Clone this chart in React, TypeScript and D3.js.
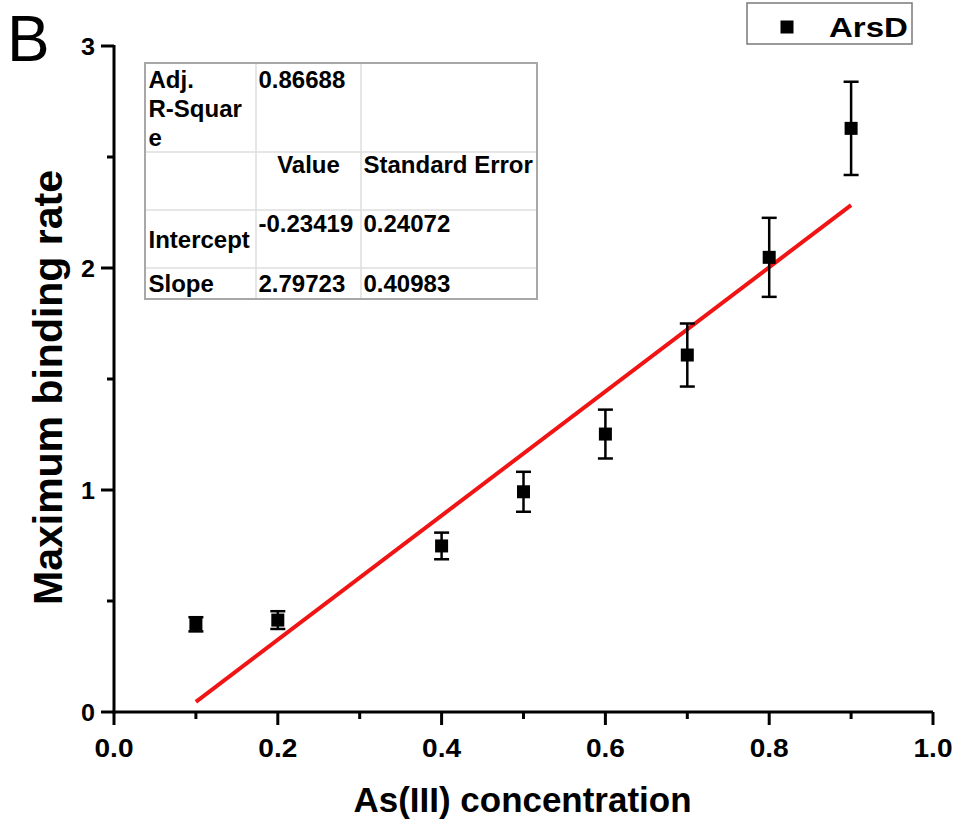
import React from "react";
import * as d3 from "d3";

const concentrations = [0.1, 0.2, 0.4, 0.5, 0.6, 0.7, 0.8, 0.9];
const bindingRates = [0.395, 0.414, 0.748, 0.992, 1.252, 1.608, 2.048, 2.629];
const errors = [0.032, 0.04, 0.06, 0.09, 0.11, 0.142, 0.178, 0.21];

const fitIntercept = -0.23419;
const fitSlope = 2.79723;
const fitRange = [0.1, 0.9];

const xTicks = [0, 0.2, 0.4, 0.6, 0.8, 1.0];
const xMinorTicks = [0.1, 0.3, 0.5, 0.7, 0.9];
const yTicks = [0, 1, 2, 3];
const yMinorTicks = [0.5, 1.5, 2.5];

const tableRows = [
  { label: ["Adj.", "R-Squar", "e"], value: "0.86688", err: "" },
  { label: [""], value: "Value", err: "Standard Error" },
  { label: ["Intercept"], value: "-0.23419", err: "0.24072" },
  { label: ["Slope"], value: "2.79723", err: "0.40983" },
];

const seriesName = "ArsD";
const xTitle = "As(III) concentration";
const yTitle = "Maximum binding rate";
const panelLabel = "B";

export default function App() {
  const W = 959;
  const H = 828;
  const x = d3.scaleLinear().domain([0, 1]).range([114, 933]);
  const y = d3.scaleLinear().domain([0, 3]).range([712, 46]);
  const font = "'Liberation Sans', Arial, Helvetica, sans-serif";

  const fitLine = d3
    .line<number>()
    .x((d) => x(d))
    .y((d) => y(fitIntercept + fitSlope * d));

  const tLeft = 145, tRight = 537, tTop = 63, tBottom = 299;
  const colX = [tLeft, 256, 361, tRight];
  const rowY = [tTop, 152, 210, 268, tBottom];

  return (
    <svg
      width={W}
      height={H}
      style={{ position: "absolute", left: 0, top: 0, background: "#fff" }}
      fontFamily={font}
    >
      <rect x={0} y={0} width={W} height={H} fill="#fff" />
      <text x={7} y={61} fontSize={64} fill="#000">
        {panelLabel}
      </text>

      {/* axes */}
      <line x1={x(0)} x2={x(0)} y1={y(3) - 1} y2={y(0) + 1.5} stroke="#000" strokeWidth={3} />
      <line x1={x(0) - 1.5} x2={x(1)} y1={y(0)} y2={y(0)} stroke="#000" strokeWidth={3} />
      {yTicks.map((t) => (
        <g key={"yt" + t}>
          <line x1={x(0) - 13} x2={x(0)} y1={y(t)} y2={y(t)} stroke="#000" strokeWidth={3} />
          <text
            x={95}
            y={y(t) + 8.5}
            fontSize={24}
            fontWeight="bold"
            textAnchor="end"
            textLength={14}
            lengthAdjust="spacingAndGlyphs"
          >
            {t}
          </text>
        </g>
      ))}
      {yMinorTicks.map((t) => (
        <line key={"ym" + t} x1={x(0) - 7} x2={x(0)} y1={y(t)} y2={y(t)} stroke="#000" strokeWidth={3} />
      ))}
      {xTicks.map((t) => (
        <g key={"xt" + t}>
          <line x1={x(t)} x2={x(t)} y1={y(0)} y2={y(0) + 13} stroke="#000" strokeWidth={3} />
          <text
            x={x(t)}
            y={757}
            fontSize={25}
            fontWeight="bold"
            textAnchor="middle"
            textLength={39}
            lengthAdjust="spacingAndGlyphs"
          >
            {t.toFixed(1)}
          </text>
        </g>
      ))}
      {xMinorTicks.map((t) => (
        <line key={"xm" + t} x1={x(t)} x2={x(t)} y1={y(0)} y2={y(0) + 7} stroke="#000" strokeWidth={3} />
      ))}

      {/* axis titles */}
      <text
        x={522.5}
        y={812}
        fontSize={35}
        fontWeight="bold"
        textAnchor="middle"
        textLength={338}
        lengthAdjust="spacingAndGlyphs"
      >
        {xTitle}
      </text>
      <text
        transform={`translate(61.5,387.5) rotate(-90)`}
        fontSize={41}
        fontWeight="bold"
        textAnchor="middle"
        textLength={435}
        lengthAdjust="spacingAndGlyphs"
      >
        {yTitle}
      </text>

      {/* fit line */}
      <path d={fitLine(fitRange) || ""} stroke="#f01414" strokeWidth={4} fill="none" />

      {/* error bars and points */}
      {concentrations.map((c, i) => {
        const cx = x(c);
        const top = y(bindingRates[i] + errors[i]);
        const bot = y(bindingRates[i] - errors[i]);
        return (
          <g key={"p" + i}>
            <line x1={cx} x2={cx} y1={top} y2={bot} stroke="#000" strokeWidth={2.5} />
            <line x1={cx - 7.5} x2={cx + 7.5} y1={top} y2={top} stroke="#000" strokeWidth={2.5} />
            <line x1={cx - 7.5} x2={cx + 7.5} y1={bot} y2={bot} stroke="#000" strokeWidth={2.5} />
            <rect x={cx - 6.5} y={y(bindingRates[i]) - 6.5} width={13} height={13} fill="#000" />
          </g>
        );
      })}

      {/* stats table */}
      <rect x={tLeft} y={tTop} width={tRight - tLeft} height={tBottom - tTop} fill="#fff" />
      {rowY.slice(1, -1).map((ry, i) => (
        <line key={"rl" + i} x1={tLeft} x2={tRight} y1={ry} y2={ry} stroke="#dedede" strokeWidth={1.5} />
      ))}
      {colX.slice(1, -1).map((cx, i) => (
        <line key={"cl" + i} x1={cx} x2={cx} y1={tTop} y2={tBottom} stroke="#dedede" strokeWidth={1.5} />
      ))}
      <rect
        x={tLeft}
        y={tTop}
        width={tRight - tLeft}
        height={tBottom - tTop}
        fill="none"
        stroke="#a8a8a8"
        strokeWidth={2}
      />
      <g fontSize={24} fontWeight="bold" fill="#000">
        {tableRows[0].label.map((l, j) => (
          <text key={"r0" + j} x={148.5} y={88 + j * 29}>
            {l}
          </text>
        ))}
        <text x={258.5} y={88}>{tableRows[0].value}</text>
        <text x={308.5} y={173} textAnchor="middle">{tableRows[1].value}</text>
        <text x={363.5} y={173}>{tableRows[1].err}</text>
        <text x={148.5} y={248}>{tableRows[2].label[0]}</text>
        <text x={258.5} y={232}>{tableRows[2].value}</text>
        <text x={363.5} y={232}>{tableRows[2].err}</text>
        <text x={148.5} y={292}>{tableRows[3].label[0]}</text>
        <text x={258.5} y={292}>{tableRows[3].value}</text>
        <text x={363.5} y={292}>{tableRows[3].err}</text>
      </g>

      {/* legend */}
      <rect x={747} y={3} width={165} height={41} fill="#fff" stroke="#7a7a7a" strokeWidth={1.5} />
      <rect x={787 - 6.5} y={27 - 6.5} width={13} height={13} fill="#000" />
      <text
        x={829}
        y={36.5}
        fontSize={27}
        fontWeight="bold"
        textLength={79}
        lengthAdjust="spacingAndGlyphs"
      >
        {seriesName}
      </text>
    </svg>
  );
}
